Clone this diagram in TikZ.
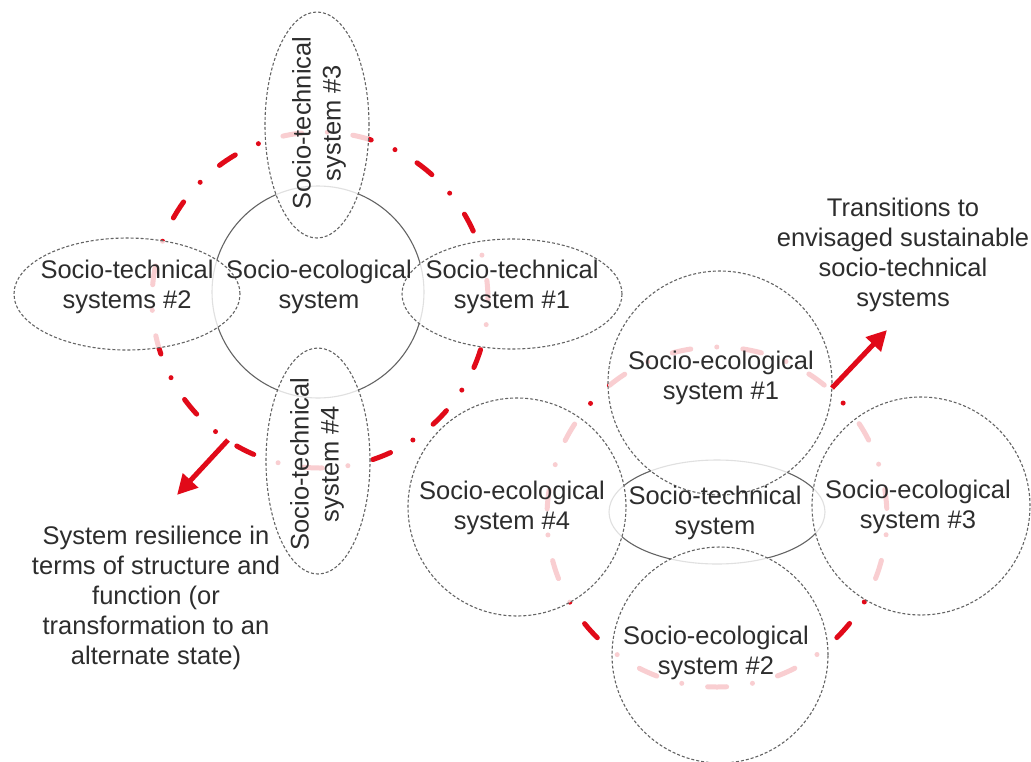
\documentclass[tikz,border=0pt]{standalone}
\usepackage{fontspec}
\setmainfont{Liberation Sans}
\usetikzlibrary{shapes.geometric,arrows.meta}
\definecolor{ringred}{RGB}{225,10,25}
\definecolor{linegray}{RGB}{100,100,100}
\definecolor{txtgray}{RGB}{45,45,45}
\begin{document}
\begin{tikzpicture}[x=1pt,y=-1pt,
 ring/.style={draw=ringred, line width=5pt, line cap=round},
 ringL/.style={ring, dash pattern=on 19pt off 25.7pt on 0pt off 25.7pt, dash phase=69.7pt},
 ringR/.style={ring, dash pattern=on 19pt off 26.1pt on 0pt off 26.1pt, dash phase=62.6pt},
 dshape/.style={draw=linegray, line width=1.1pt, dash pattern=on 3pt off 2pt, fill=white, fill opacity=0.8, text opacity=1, inner sep=0pt},
 sshape/.style={draw=linegray, line width=1.1pt, inner sep=0pt},
 dell/.style={dshape, ellipse},
 dcirc/.style={dshape, circle},
 lbl/.style={font=\fontsize{25.5}{30}\selectfont, text=txtgray, align=center, inner sep=0pt},
 bigarrow/.style={draw=ringred, line width=5pt, -{Triangle[length=20pt,width=20pt]}}]
\useasboundingbox[fill=white] (0,0) rectangle (1031,761);

% ring centres
\coordinate (Lc) at (320,300);
\coordinate (Rc) at (717,517);
\draw[ringL] (Lc) circle (168pt);
\draw[ringR] (Rc) circle (170pt);

% left cluster
\node[sshape, circle, minimum size=212pt] (sec) at (318,292) {};
\node[dell, minimum width=104pt, minimum height=226pt] (st3) at (317,125) {};
\node[dell, minimum width=226pt, minimum height=112pt] (st2) at (127,294) {};
\node[dell, minimum width=220pt, minimum height=110pt] (st1) at (512,294) {};
\node[dell, minimum width=104pt, minimum height=226pt] (st4) at (318,461) {};

% right cluster
\node[sshape, ellipse, minimum width=216pt, minimum height=104pt] (stc) at (717,512) {};
\node[dcirc, minimum size=224pt] (se1) at (720,383) {};
\node[dcirc, minimum size=218pt] (se4) at (517,507) {};
\node[dcirc, minimum size=218pt] (se3) at (921,506) {};
\node[dcirc, minimum size=216pt] (se2) at (720,655) {};

% labels
\node[lbl] (tsec) at (319,287) {Socio-ecological\\system};
\node[lbl] (tst2) at (127,287) {Socio-technical\\systems \#2};
\node[lbl] (tst1) at (512,287) {Socio-technical\\system \#1};
\node[lbl, rotate=90] (tst3) at (319,123) {Socio-technical\\system \#3};
\node[lbl, rotate=90] (tst4) at (317,464) {Socio-technical\\system \#4};
\node[lbl] (tse1) at (721,378) {Socio-ecological\\system \#1};
\node[lbl] (tse4) at (512,508) {Socio-ecological\\system \#4};
\node[lbl] (tstc) at (715,513) {Socio-technical\\system};
\node[lbl] (tse3) at (918,507) {Socio-ecological\\system \#3};
\node[lbl] (tse2) at (716,653) {Socio-ecological\\system \#2};
\node[lbl] (ttrans) at (903,255) {Transitions to\\envisaged sustainable\\socio-technical\\systems};
\node[lbl] (tres) at (156,598) {System resilience in\\terms of structure and\\function (or\\transformation to an\\alternate state)};

% arrows
\coordinate (la) at (228,440);
\coordinate (lb) at (177,495);
\coordinate (ra) at (832,388);
\coordinate (rb) at (887,330);
\draw[bigarrow] (la) -- (lb);
\draw[bigarrow] (ra) -- (rb);
\end{tikzpicture}
\end{document}
